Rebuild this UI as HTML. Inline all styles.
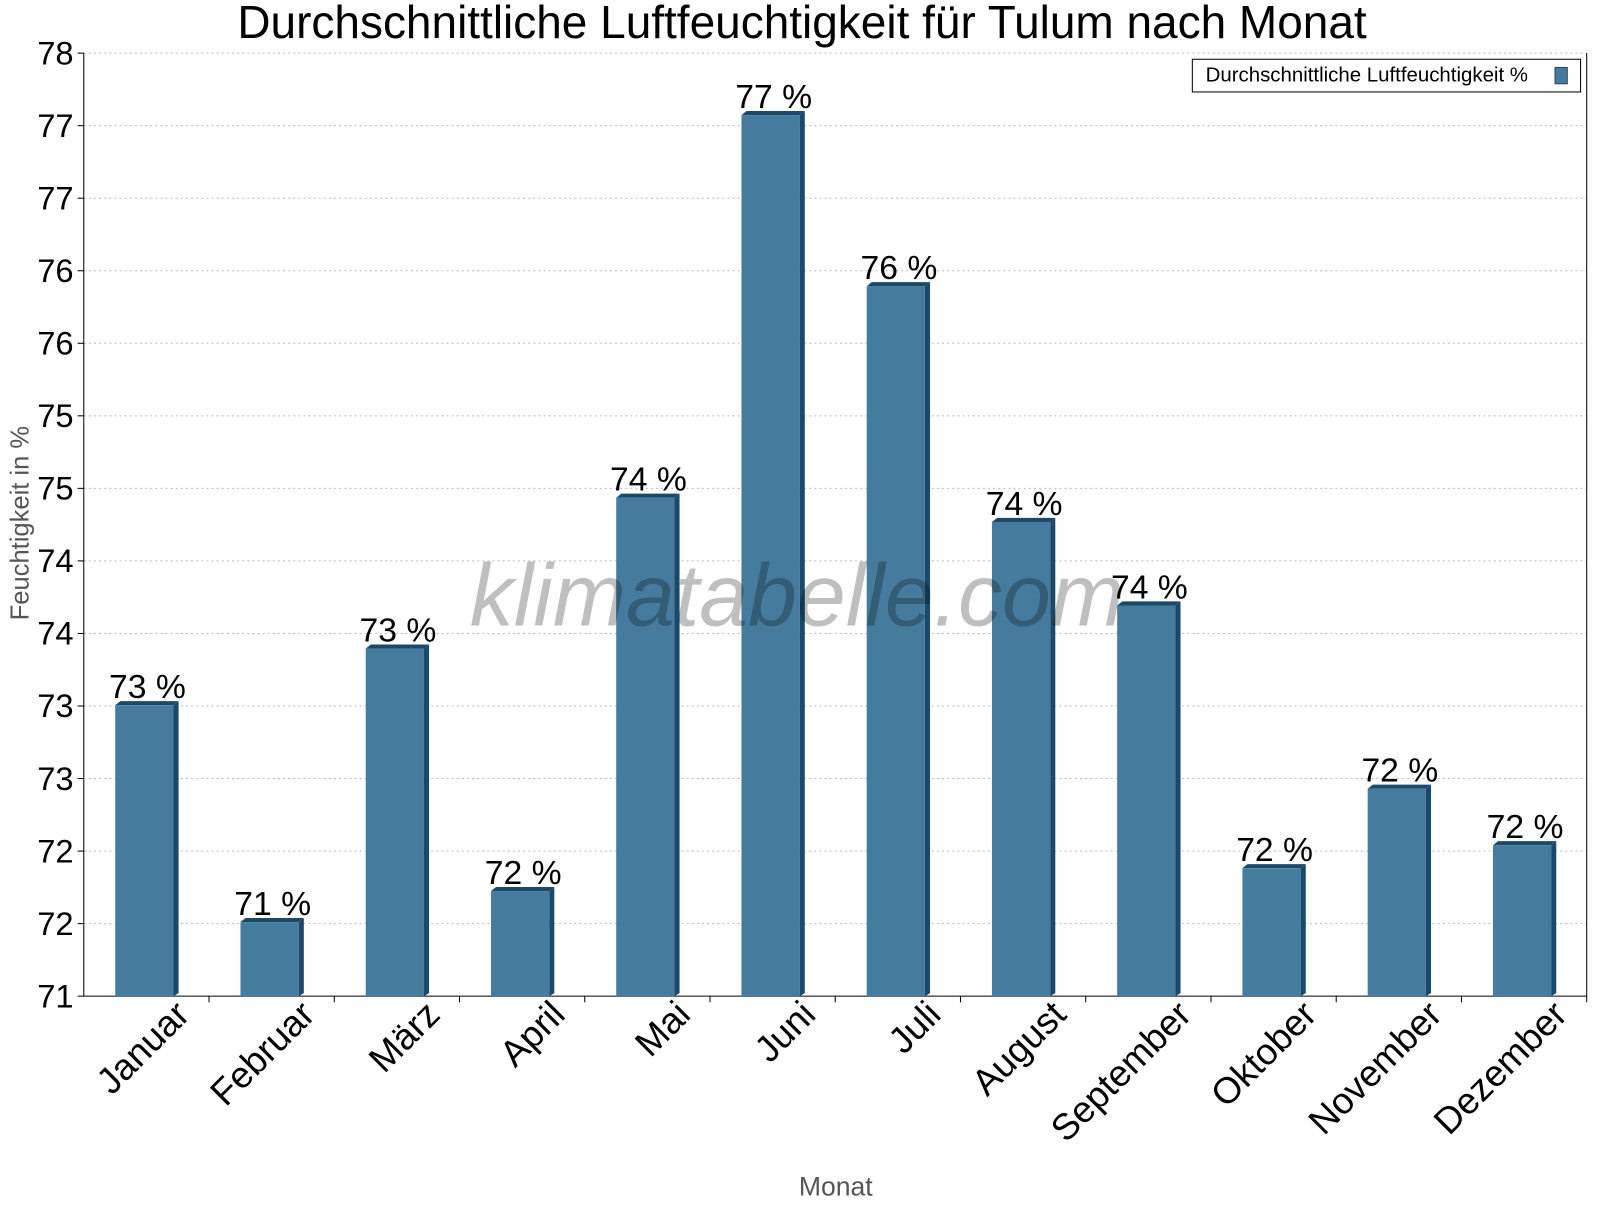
<!DOCTYPE html>
<html><head><meta charset="utf-8"><style>
body{margin:0;background:#fff;font-family:"Liberation Sans",sans-serif}
</style></head><body>
<svg width="1600" height="1200" xmlns="http://www.w3.org/2000/svg" id="svg" font-family="Liberation Sans, sans-serif">
<g transform="scale(1.0217)">
<text x="785" y="37" font-size="45" text-anchor="middle">Durchschnittliche Luftfeuchtigkeit für Tulum nach Monat</text>
<g id="grid"></g>
<text transform="translate(28,512) rotate(-90)" font-size="25" fill="#555" text-anchor="middle">Feuchtigkeit in %</text>
<text x="818" y="1170" font-size="26" fill="#555" text-anchor="middle">Monat</text>
<g id="bars"></g>
<text x="780" y="612" font-size="86" font-style="italic" fill="#000" fill-opacity="0.25" text-anchor="middle">klimatabelle.com</text>
<g>
<rect x="1167" y="58" width="380" height="32" fill="#fff" stroke="#000" stroke-width="1"/>
<text x="1180" y="80" font-size="20">Durchschnittliche Luftfeuchtigkeit %</text>
<rect x="1522" y="66" width="12" height="16" fill="#457b9d" stroke="#1a4a6b"/>
</g>
</g>
</svg>
<script>
const months=["Januar","Februar","März","April","Mai","Juni","Juli","August","September","Oktober","November","Dezember"];
const values=[73.16,71.55,73.58,71.78,74.70,77.54,76.27,74.52,73.90,71.95,72.54,72.12];
const valueLabels=["73 %","71 %","73 %","72 %","74 %","77 %","76 %","74 %","74 %","72 %","72 %","72 %"];
const yMin=71,yMax=78,nTicks=13;
const L=82,R=1553,T=52,B=975;
const NS="http://www.w3.org/2000/svg";
const y=v=>B-(v-yMin)/(yMax-yMin)*(B-T);
const step=(R-L)/months.length;
const x=i=>L+step*(i+0.5);
function mk(tag,attrs,parent,txt){const e=document.createElementNS(NS,tag);for(const k in attrs)e.setAttribute(k,attrs[k]);if(txt!=null)e.textContent=txt;parent.appendChild(e);return e;}
const g=document.getElementById('grid');
for(let k=0;k<=nTicks;k++){const v=yMin+k*(yMax-yMin)/nTicks;const yy=y(v);
 if(k>0){const l=mk('line',{x1:L,x2:R,y1:yy,y2:yy,stroke:'#bbb','stroke-dasharray':'2,3'},g);}
 mk('line',{x1:L-6,x2:L,y1:yy,y2:yy,stroke:'#000'},g);
 const t=mk('text',{x:L-10,y:yy+11,'font-size':32,'text-anchor':'end'},g,String(Math.round(v)));
 }
mk('line',{x1:L,x2:L,y1:T,y2:B,stroke:'#000'},g);
mk('line',{x1:L,x2:R,y1:B,y2:B,stroke:'#000'},g);
mk('line',{x1:R,x2:R,y1:T,y2:B,stroke:'#000'},g);
const bg=document.getElementById('bars');
const w=57,d=5;
months.forEach((m,i)=>{
 const cx=x(i)-2,top=y(values[i]);
 const gr=mk('g',{},bg);
 mk('polygon',{points:`${cx+w/2},${top} ${cx+w/2+d},${top-4} ${cx+w/2+d},${B-3} ${cx+w/2},${B}`,fill:'#1a4a6b'},gr);
 mk('polygon',{points:`${cx-w/2},${top} ${cx-w/2+d},${top-4} ${cx+w/2+d},${top-4} ${cx+w/2},${top}`,fill:'#1a4a6b'},gr);
 mk('rect',{x:cx-w/2,y:top,width:w,height:B-top,fill:'#457b9d'},gr);
 const vl=mk('text',{x:cx+3,y:top-7,'font-size':33,'text-anchor':'middle'},bg,valueLabels[i]);
 
 const bx=L+step*(i+1);
 mk('line',{x1:bx,x2:bx,y1:B,y2:B+6,stroke:'#000'},bg);
 const tl=mk('text',{transform:`translate(${x(i)+44},${B+20}) rotate(-45)`,'font-size':36,'text-anchor':'end'},bg,m);
 
});
</script>
</body></html>
